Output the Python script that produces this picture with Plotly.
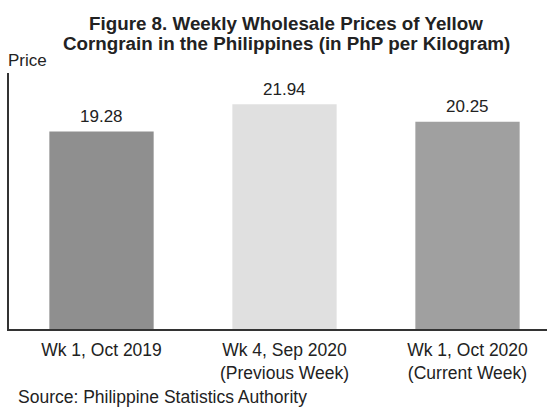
import plotly.graph_objects as go

categories = ["Wk 1, Oct 2019", "Wk 4, Sep 2020<br>(Previous Week)", "Wk 1, Oct 2020<br>(Current Week)"]
prices = [19.28, 21.94, 20.25]
labels = ["19.28", "21.94", "20.25"]
colors = ["#8f8f8f", "#e0e0e0", "#a0a0a0"]
title_lines = ["Figure 8. Weekly Wholesale Prices of Yellow",
               "Corngrain in the Philippines (in PhP per Kilogram)"]
y_title = "Price"
source = "Source: Philippine Statistics Authority"

FONT = "Liberation Sans, Arial, sans-serif"
TXT = "#222222"

W, H = 547, 409
L, T, B = 9, 73, 80
PW = W - L
PH = H - T - B


def px_x(p):
    return (p - L) / PW


def px_y(p):
    return (H - B - p) / PH


fig = go.Figure()
fig.add_trace(go.Bar(
    x=categories, y=prices,
    marker=dict(color=colors, line=dict(width=0)),
    width=0.57,
    hoverinfo="skip",
))

for c, v, t in zip(categories, prices, labels):
    fig.add_annotation(x=c, y=v, text=t, showarrow=False, xref="x", yref="y",
                       yanchor="middle", yshift=15,
                       font=dict(family=FONT, size=17, color=TXT))

for txt, py in zip(title_lines, [23, 43]):
    fig.add_annotation(x=px_x(286), y=px_y(py), xref="paper", yref="paper",
                       text="<b>" + txt + "</b>", showarrow=False,
                       xanchor="center", yanchor="middle",
                       font=dict(family=FONT, size=18.8, color=TXT))

fig.add_annotation(x=px_x(6), y=px_y(60), xref="paper", yref="paper", text=y_title,
                   showarrow=False, xanchor="left", yanchor="middle",
                   font=dict(family=FONT, size=17, color=TXT))
fig.add_annotation(x=px_x(16), y=px_y(397), xref="paper", yref="paper", text=source,
                   showarrow=False, xanchor="left", yanchor="middle",
                   font=dict(family=FONT, size=17.5, color=TXT))

# category spacing ~183 px, first category centred near x=101.5
spacing = 183.0
x0 = (L - 101.5) / spacing
x1 = x0 + PW / spacing

fig.update_layout(
    width=W, height=H,
    margin=dict(l=L, r=0, t=T, b=B, pad=0),
    paper_bgcolor="white", plot_bgcolor="white",
    showlegend=False,
    xaxis=dict(range=[x0, x1], showline=True, linecolor="#333333", linewidth=2,
               ticks="", showgrid=False, zeroline=False,
               tickfont=dict(family=FONT, size=17.5, color=TXT),
               ticklabelstandoff=4),
    yaxis=dict(range=[0, 25], showline=True, linecolor="#333333", linewidth=2,
               showticklabels=False, ticks="", showgrid=False, zeroline=False),
)

fig.write_html("out.html", config={"displayModeBar": False},
               post_script="document.body.style.margin='0';document.body.style.overflow='hidden';")
